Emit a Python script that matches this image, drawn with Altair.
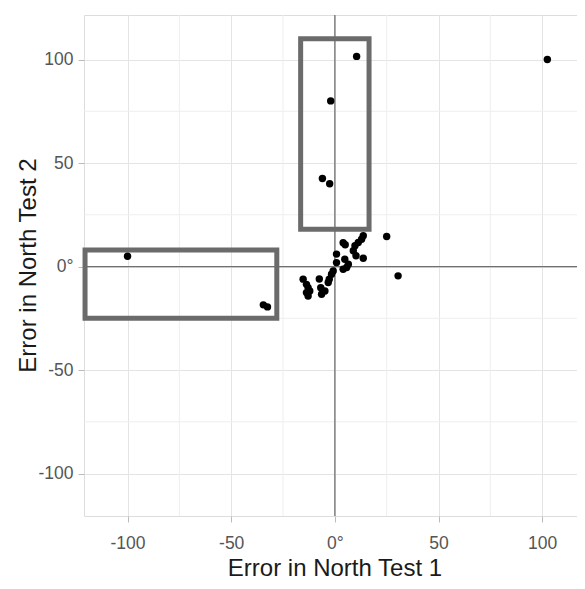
import altair as alt
import pandas as pd

# Scatter data: error in North Test 1 (x) vs North Test 2 (y)
err_test1 = [102.5, -100, -34.5, -32.5, 10.5, -2, -6, -2.5, 25, 30.5,
             4, 5, 13.7, 12.9, 11.3, 9.7, 8.9, 13.7, 10.2, 0.8,
             4.8, 6.5, 5.7, 4, 0.8, -0.8, -1.6, -2.7, -3.2, -7.5,
             -6.8, -4.8, -6.4, -15.3, -13.7, -12.9, -12.1, -13.7, -12.9]
err_test2 = [100, 5, -18.5, -19.5, 101.5, 80, 42.5, 40, 14.5, -4.5,
             11.5, 10.5, 14.9, 13.2, 11.6, 10, 7.6, 4, 5.2, 6,
             3.5, 1.1, -0.5, -1.3, 1.9, -2.1, -3.7, -6.1, -7.7, -6,
             -10.2, -11.8, -13.4, -6.1, -8.6, -10.2, -11.8, -12.6, -14.2]

# Highlight boxes
box_x1 = [-16.5, -120.5]
box_x2 = [16.5, -28]
box_y1 = [18, -25]
box_y2 = [110, 8]

major_ticks = [-100, -50, 0, 50, 100]
minor_grid = [-75, -25, 25, 75]

x_dom = [-121, 116.8]
y_dom = [-120.5, 121.5]

pts = pd.DataFrame({"x": err_test1, "y": err_test2})
boxes = pd.DataFrame({"x1": box_x1, "x2": box_x2, "y1": box_y1, "y2": box_y2})
minor = pd.DataFrame({"v": minor_grid})
zero = pd.DataFrame({"v": [0]})

label_expr = "datum.value == 0 ? '0°' : '' + datum.value"

xscale = alt.Scale(domain=x_dom, nice=False, zero=False)
yscale = alt.Scale(domain=y_dom, nice=False, zero=False)

common = dict(values=major_ticks, labelExpr=label_expr, grid=True, gridColor="#e4e4e4",
              domain=False, tickColor="#bbbbbb", tickSize=6,
              labelFont="Liberation Sans", labelFontSize=17.5, labelColor="#555555",
              titleFont="Liberation Sans", titleFontSize=24, titleFontWeight="normal",
              titleColor="#1a1a1a")

xaxis = alt.Axis(title="Error in North Test 1", labelPadding=12,
                 titleX=250.5, titleY=52, titleBaseline="middle", titleAlign="center",
                 **common)
yaxis = alt.Axis(title="Error in North Test 2", labelPadding=5,
                 titleX=-56, titleY=250, titleAngle=-90, titleBaseline="middle",
                 titleAlign="center", **common)

base_pts = alt.Chart(pts).mark_point(filled=True, color="black", size=55, opacity=1).encode(
    x=alt.X("x:Q", scale=xscale, axis=xaxis),
    y=alt.Y("y:Q", scale=yscale, axis=yaxis),
)

minor_v = alt.Chart(minor).mark_rule(color="#eeeeee", strokeWidth=1).encode(
    x=alt.X("v:Q", scale=xscale))
minor_h = alt.Chart(minor).mark_rule(color="#eeeeee", strokeWidth=1).encode(
    y=alt.Y("v:Q", scale=yscale))

zero_v = alt.Chart(zero).mark_rule(color="#707070", strokeWidth=1.3).encode(
    x=alt.X("v:Q", scale=xscale))
zero_h = alt.Chart(zero).mark_rule(color="#707070", strokeWidth=1.3).encode(
    y=alt.Y("v:Q", scale=yscale))

rects = alt.Chart(boxes).mark_rect(fillOpacity=0, stroke="#6b6b6b", strokeWidth=5).encode(
    x=alt.X("x1:Q", scale=xscale), x2="x2:Q",
    y=alt.Y("y1:Q", scale=yscale), y2="y2:Q",
)

chart = alt.layer(minor_v, minor_h, zero_v, zero_h, rects, base_pts).properties(
    width=493, height=501,
    padding={"left": 76, "top": 7, "right": 0, "bottom": 64},
    autosize=alt.AutoSizeParams(type="none"),
).configure_view(stroke="#cccccc", strokeWidth=1).configure(background="white")

chart.save("out.html", embed_options={"renderer": "svg", "actions": False})
